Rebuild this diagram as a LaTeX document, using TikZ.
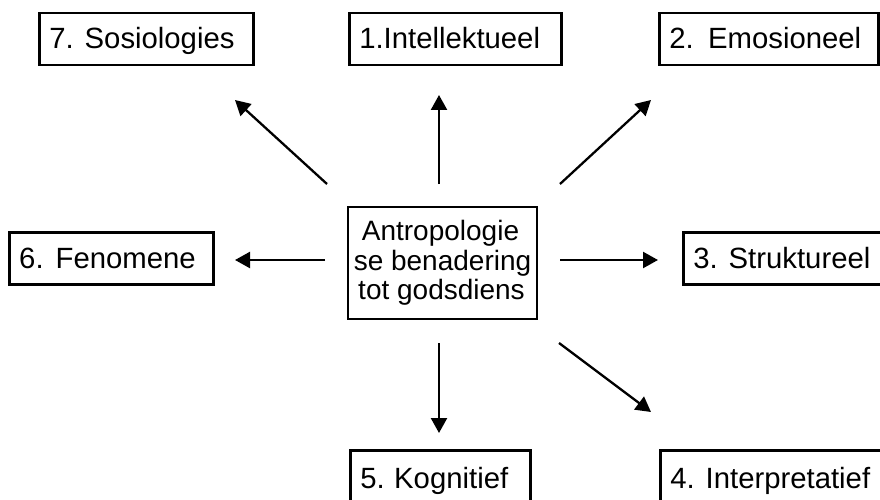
\documentclass[tikz,border=0pt]{standalone}
\usepackage{fontspec}
\setmainfont{Liberation Sans}
\usetikzlibrary{arrows.meta}
\tikzset{
  outerbox/.style={draw, line width=2.5pt, inner xsep=10pt, inner ysep=0pt,
    font=\fontsize{29.3}{31}\selectfont,
    text height=19.5pt, text depth=0pt, align=left, anchor=north west, minimum height=52pt},
  centerbox/.style={draw, line width=2.5pt, inner sep=0pt, align=center,
    font=\fontsize{28}{29.5}\selectfont,
    minimum width=189pt, minimum height=112pt},
  conn/.style={line width=2.3pt, -{Triangle[length=15pt,width=16pt]}}
}
\newcommand{\numgap}[1]{\hskip #1pt}
\begin{document}
\begin{tikzpicture}[x=1pt, y=-1pt]
\clip (0,0) rectangle (880,500);
\fill[white] (0,0) rectangle (880,500);
% boxes
\node[outerbox, text width=194pt] (n7) at (38,12) {7.\numgap{11}Sosiologies};
\node[outerbox, text width=192pt] (n1) at (348,12) {1.Intellektueel};
\node[outerbox, text width=199pt] (n2) at (658,12) {2.\numgap{14.5}Emosioneel};
\node[outerbox, text width=184pt] (n6) at (8,231) {6.\numgap{12}Fenomene};
\node[outerbox, text width=183pt] (n3) at (682,231) {3.\numgap{11}Struktureel};
\node[outerbox, text width=160pt, minimum height=56pt] (n5) at (349,449) {5.\numgap{9.5}Kognitief};
\node[outerbox, text width=206pt, minimum height=56pt] (n4) at (659,449) {4.\numgap{11}Interpretatief};
\node[centerbox] (c) at (442.5,263) {Antropologie\hspace*{4pt}\\se benadering\hspace*{3pt}\\tot godsdiens\hspace*{2pt}};
% connector ends
\coordinate (s7) at (327,184); \coordinate (e7) at (235,100);
\coordinate (s1) at (439,184); \coordinate (e1) at (439,95);
\coordinate (s2) at (560,184); \coordinate (e2) at (651,100);
\coordinate (s6) at (325,260); \coordinate (e6) at (235,260);
\coordinate (s3) at (560,260); \coordinate (e3) at (658,260);
\coordinate (s5) at (439,343); \coordinate (e5) at (439,433);
\coordinate (s4) at (559,343); \coordinate (e4) at (651,412);
\draw[conn] (s7) -- (e7);
\draw[conn] (s1) -- (e1);
\draw[conn] (s2) -- (e2);
\draw[conn] (s6) -- (e6);
\draw[conn] (s3) -- (e3);
\draw[conn] (s5) -- (e5);
\draw[conn] (s4) -- (e4);
\end{tikzpicture}
\end{document}
